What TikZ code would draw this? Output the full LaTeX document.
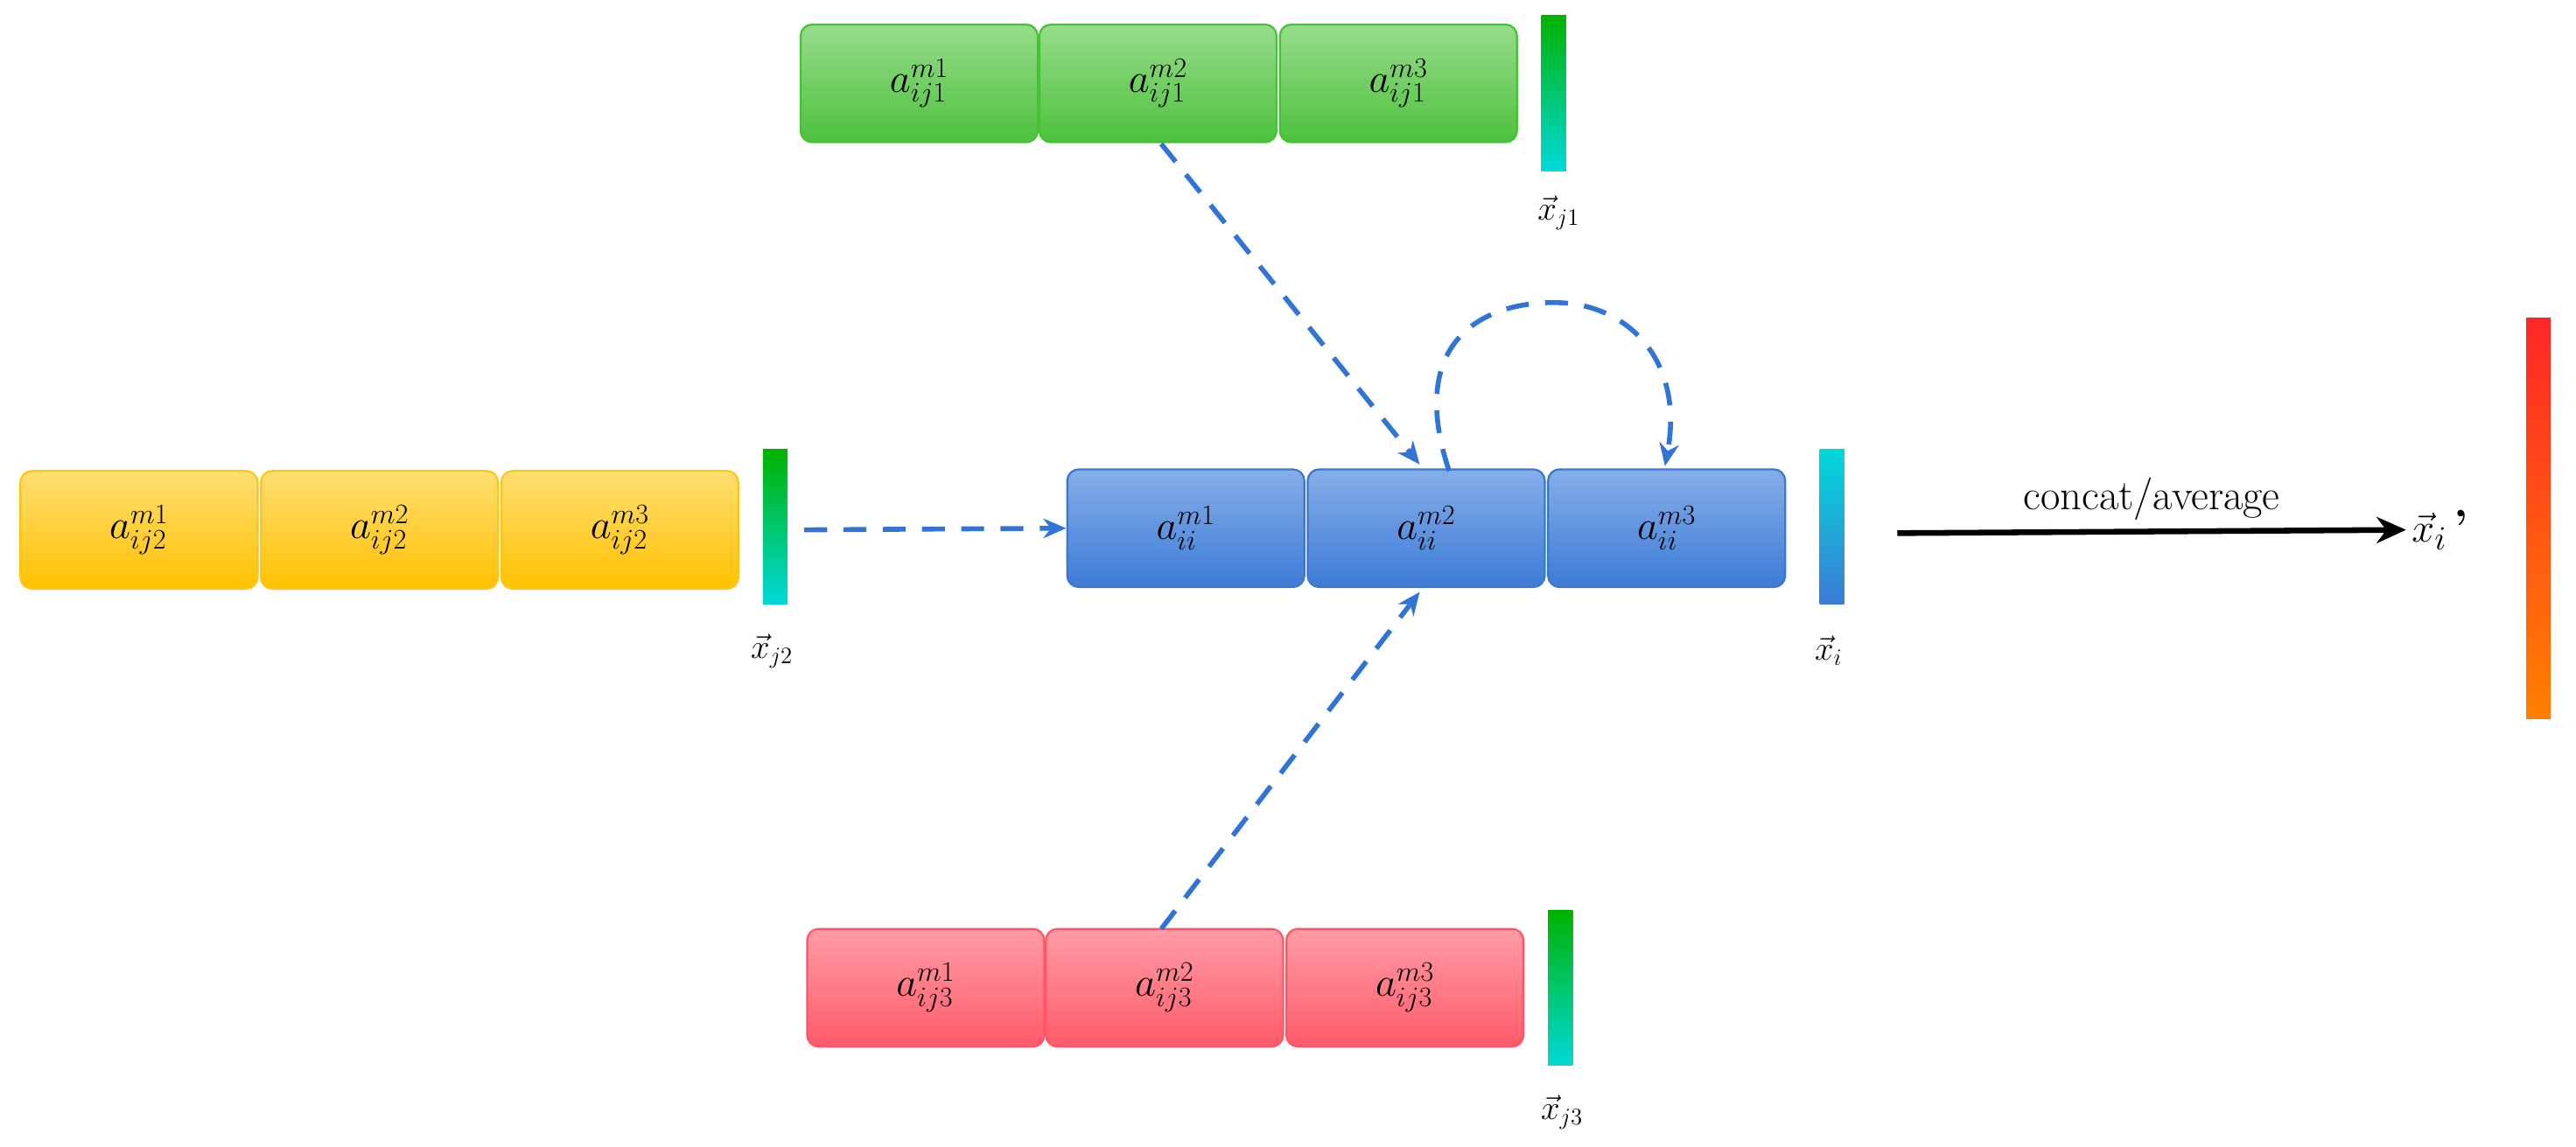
\documentclass[tikz,border=0pt]{standalone}
\usepackage{amsmath}
\usetikzlibrary{arrows.meta}
\definecolor{gf}{HTML}{7ED36E}\definecolor{gf2}{HTML}{4CC23C}\definecolor{gb}{HTML}{45C235}
\definecolor{yf}{HTML}{FFD750}\definecolor{yf2}{HTML}{FFC000}\definecolor{yb}{HTML}{FFC414}
\definecolor{bf}{HTML}{86AEE8}\definecolor{bf2}{HTML}{3D7BD6}\definecolor{bb}{HTML}{3A78D0}
\definecolor{rf}{HTML}{FF9CA6}\definecolor{rf2}{HTML}{FF5A6A}\definecolor{rb}{HTML}{FF5566}
\definecolor{dash}{HTML}{2F74D6}
\tikzset{
 cell/.style={draw, line width=1.2pt, rounded corners=7pt, minimum width=145pt, minimum height=72pt, inner sep=0pt, font=\fontsize{26}{30}\selectfont},
 G/.style={cell, draw=gb, top color=gf!80!white, bottom color=gf2},
 Y/.style={cell, draw=yb, top color=yf!80!white, bottom color=yf2},
 B/.style={cell, draw=bb, top color=bf, bottom color=bf2},
 R/.style={cell, draw=rb, top color=rf, bottom color=rf2},
 bar/.style={minimum width=15pt, minimum height=95pt, inner sep=0pt},
 lab/.style={font=\fontsize{20}{24}\selectfont},
 da/.style={draw=dash, line width=3pt, dash pattern=on 14pt off 10pt, -{Stealth[length=14pt,width=12pt]}},
}
\begin{document}
\begin{tikzpicture}[x=1pt,y=-1pt]
\useasboundingbox (0,0) rectangle (1575,701);
% green
\node[G] (g1) at (562,51) {$a_{ij1}^{m1}$};
\node[G] (g2) at (708,51) {$a_{ij1}^{m2}$};
\node[G] (g3) at (855,51) {$a_{ij1}^{m3}$};
\node[bar, top color=green!70!black, bottom color=cyan!70!teal] (gbar) at (950,57) {};
\node[lab] (gl) at (953,130) {$\vec{x}_{j1}$};
% yellow
\node[Y] (y1) at (85,324) {$a_{ij2}^{m1}$};
\node[Y] (y2) at (232,324) {$a_{ij2}^{m2}$};
\node[Y] (y3) at (379,324) {$a_{ij2}^{m3}$};
\node[bar, top color=green!70!black, bottom color=cyan!70!teal] (ybar) at (474,322) {};
\node[lab] (yl) at (472,398) {$\vec{x}_{j2}$};
% blue
\node[B] (b1) at (725,323) {$a_{ii}^{m1}$};
\node[B] (b2) at (872,323) {$a_{ii}^{m2}$};
\node[B] (b3) at (1019,323) {$a_{ii}^{m3}$};
\node[bar, top color=cyan!70!teal, bottom color=bf2] (bbar) at (1120,322) {};
\node[lab] (bl) at (1118,398) {$\vec{x}_{i}$};
% red
\node[R] (r1) at (566,604) {$a_{ij3}^{m1}$};
\node[R] (r2) at (712,604) {$a_{ij3}^{m2}$};
\node[R] (r3) at (859,604) {$a_{ij3}^{m3}$};
\node[bar, top color=green!70!black, bottom color=cyan!70!teal] (rbar) at (954,604) {};
\node[lab] (rl) at (955,680) {$\vec{x}_{j3}$};
% output
\node[minimum width=15pt, minimum height=245pt, inner sep=0pt, top color=red!80!pink, bottom color=orange] (obar) at (1552,317) {};
\node[font=\fontsize{28}{32}\selectfont] (xo) at (1492,324) {$\vec{x}_i$\,\textbf{'}};
\coordinate (cs) at (1160,326);
\draw[line width=3.5pt, -{Stealth[length=18pt,width=16pt]}] (cs) -- (xo.west) node[midway, above=2pt, font=\fontsize{26}{30}\selectfont] {concat/average};
% dashed
\draw[da] (ybar.east |- y3) ++(10,0) coordinate (ys) (ys) -- (b1.west);
\coordinate (gs) at (710,88);
\coordinate (rs) at (710,568);
\draw[da] (gs) -- (868,284);
\draw[da] (rs) -- (868,362);
\draw[da] (886,288) .. controls (860,210) and (905,185) .. (950,185) .. controls (995,185) and (1030,220) .. (1018,285);
\end{tikzpicture}
\end{document}
